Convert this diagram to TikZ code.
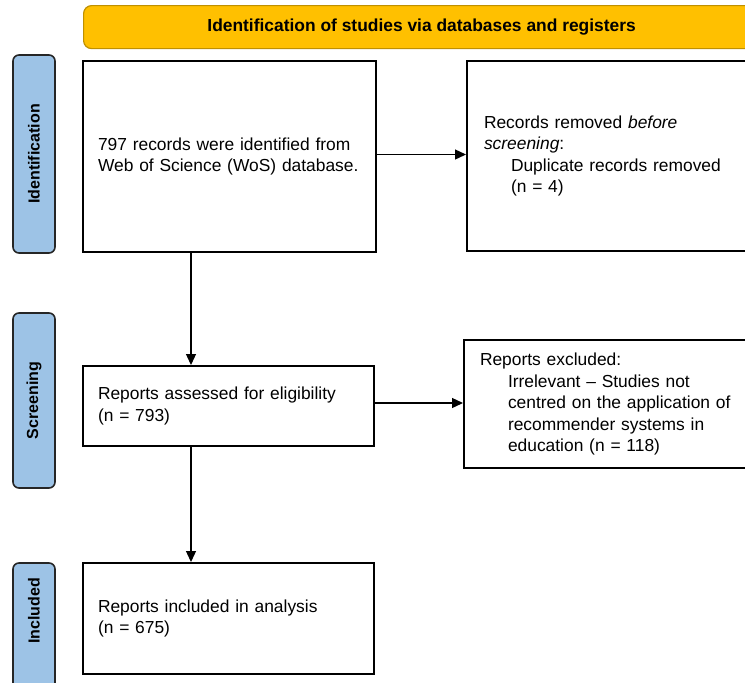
\documentclass[tikz,border=0pt]{standalone}
\usepackage{fontspec}
\setmainfont{Liberation Sans}
\usetikzlibrary{arrows.meta,calc}
\definecolor{headyellow}{HTML}{FFC000}
\definecolor{headborder}{HTML}{BF9000}
\definecolor{sideblue}{HTML}{9DC3E6}
\definecolor{sideborder}{HTML}{262626}
\tikzset{
  bodyfont/.style={font=\fontsize{17.4}{21.5}\selectfont},
  flowbox/.style={draw=black, line width=2pt, fill=white, anchor=north west,
    align=left, bodyfont, inner ysep=0pt},
  headbar/.style={draw=headborder, line width=1.2pt, fill=headyellow,
    rounded corners=8pt, anchor=north west, inner sep=0pt,
    font=\bfseries\fontsize{17.4}{20}\selectfont},
  sidebar/.style={draw=sideborder, line width=1.6pt, fill=sideblue,
    rounded corners=6pt, inner sep=0pt, minimum height=42pt, rotate=90},
  sidelabel/.style={rotate=90, inner sep=0pt, font=\bfseries\fontsize{16}{18}\selectfont},
  arr/.style={draw=black, line width=1.3pt, -{Triangle[length=11pt,width=10pt]}}
}
\begin{document}
\begin{tikzpicture}[x=1pt,y=-1pt]
\useasboundingbox (0,0) rectangle (745,683);
\clip (0,0) rectangle (745,683);

% header
\node[headbar, minimum width=676pt, minimum height=43pt] (head) at (83,5)
  {Identification of studies via databases and registers};

% side bars
\node[sidebar, minimum width=198pt] (idbar) at (34,154) {};
\node[sidelabel] (idlabel) at (idbar.center) {Identification};
\node[sidebar, minimum width=175pt] (scbar) at (34,400.5) {};
\node[sidelabel] (sclabel) at (scbar.center) {Screening};
\node[sidebar, minimum width=140pt] (inbar) at (34,633) {};
\node[sidelabel] (inlabel) at (34,611) {Included};

% boxes
\node[flowbox, text width=263pt, inner xsep=15pt, minimum height=191pt] (ident) at (82,60)
  {797 records were identified from\\Web of Science (WoS) database.};
\node[flowbox, text width=290pt, inner xsep=17pt, minimum height=190pt] (removed) at (466,60)
  {Records removed \textit{before}\\\textit{screening}:\\
   \hspace*{27pt}Duplicate records removed\\\hspace*{27pt}(n = 4)};
\node[flowbox, text width=261pt, inner xsep=15pt, minimum height=80pt] (assess) at (82,365)
  {Reports assessed for eligibility\\(n = 793)};
\node[flowbox, text width=290pt, inner xsep=16pt, minimum height=128pt] (excl) at (463,339)
  {Reports excluded:\\
   \hspace*{28pt}Irrelevant \textendash{} Studies not\\
   \hspace*{28pt}centred on the application of\\
   \hspace*{28pt}recommender systems in\\
   \hspace*{28pt}education (n = 118)};
\node[flowbox, text width=261pt, inner xsep=15pt, minimum height=111pt] (incl) at (82,562)
  {Reports included in analysis\\(n = 675)};

% connectors
\coordinate (col) at (191,0);
\draw[arr] (ident.south -| col) -- (assess.north -| col);
\draw[arr] (assess.south -| col) -- (incl.north -| col);
\draw[arr] ($(ident.east)+(0,-2)$) -- ($(ident.east -| removed.west)+(0,-2)$);
\draw[arr] ($(assess.east)+(0,-3)$) -- ($(assess.east -| excl.west)+(0,-3)$);
\end{tikzpicture}
\end{document}
